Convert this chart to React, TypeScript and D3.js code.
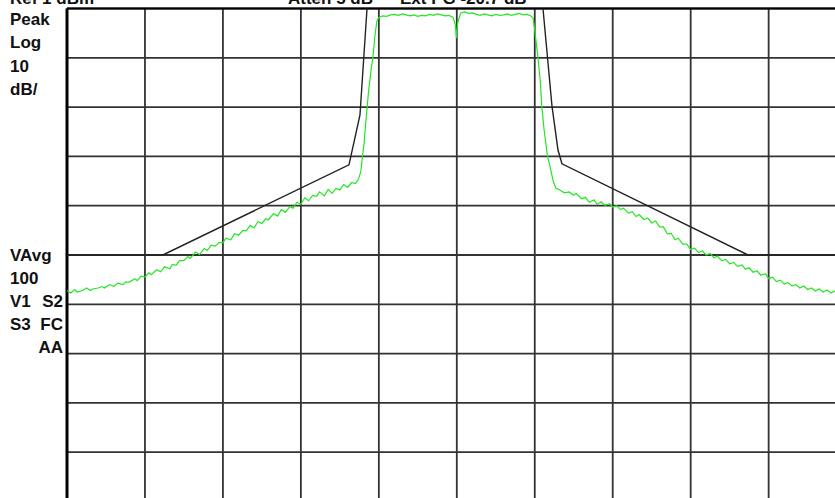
import React from "react";
import * as d3 from "d3";

// screen: 10 divisions across, 10 dB/div down from the reference level
const refLevel = 1;
const dbPerDiv = 10;

const headerLabels = [
  { text: "Ref 1 dBm", x: 10 },
  { text: "Atten 5 dB", x: 288 },
  { text: "Ext PG -20.7 dB", x: 400 },
];

const upperLabels = ["Peak", "Log", "10", "dB/"];
const lowerLabels = [
  { left: "VAvg", right: "" },
  { left: "100", right: "" },
  { left: "V1", right: "S2" },
  { left: "S3", right: "FC" },
  { left: "", right: "AA" },
];

// limit mask (division, dBm)
const maskPoints: [number, number][] = [
  [0, -49], [1.23, -49], [3.617, -30.7], [3.758, -20.6], [3.848, 0.9], [3.886, 10],
  [6.053, 10], [6.106, 0.9], [6.221, -18.8], [6.298, -27.7], [6.349, -30.5],
  [8.735, -49], [10, -49],
];

// measured trace (division, dBm)
const tracePoints: [number, number][] = [
  [0.0, -56.2], [0.05, -56.7], [0.1, -56.0], [0.13, -56.5], [0.2, -56.2], [0.25, -55.7],
  [0.3, -56.2], [0.33, -55.9], [0.4, -55.7], [0.45, -55.4], [0.48, -55.7], [0.55, -55.0],
  [0.6, -55.4], [0.65, -54.7], [0.72, -55.0], [0.75, -54.5], [0.8, -54.5], [0.87, -53.8],
  [0.9, -54.2], [0.95, -53.3], [1.0, -53.5], [1.05, -52.6], [1.08, -53.0], [1.15, -52.0],
  [1.2, -52.4], [1.25, -51.4], [1.32, -51.8], [1.35, -50.9], [1.4, -51.1], [1.44, -50.2],
  [1.5, -50.1], [1.55, -49.3], [1.58, -49.7], [1.65, -48.4], [1.7, -48.9], [1.76, -47.7],
  [1.8, -48.1], [1.85, -47.0], [1.9, -47.2], [1.95, -46.5], [2.0, -46.5], [2.04, -45.6],
  [2.1, -45.9], [2.15, -44.7], [2.2, -45.0], [2.26, -44.0], [2.3, -44.1], [2.35, -43.0],
  [2.4, -43.5], [2.45, -42.2], [2.5, -42.6], [2.55, -41.6], [2.58, -41.9], [2.65, -40.6],
  [2.7, -41.1], [2.75, -39.8], [2.8, -40.3], [2.86, -39.2], [2.9, -39.5], [2.95, -38.3],
  [3.0, -38.7], [3.05, -37.4], [3.1, -38.0], [3.15, -36.9], [3.2, -37.1], [3.24, -36.2],
  [3.3, -37.0], [3.35, -35.7], [3.4, -36.5], [3.45, -35.5], [3.5, -35.8], [3.55, -34.7],
  [3.6, -35.3], [3.65, -34.3], [3.7, -34.5], [3.74, -33.6], [3.77, -32.0], [3.79, -29.0],
  [3.81, -26.5], [3.83, -22.5], [3.85, -19.0], [3.87, -15.5], [3.9, -11.5], [3.925, -8.8],
  [3.95, -4.5], [3.975, -1.5], [4.0, -0.8],
  [4.05, -0.5], [4.1, -0.6], [4.15, -0.3], [4.2, -0.2], [4.25, -0.4], [4.3, -0.1],
  [4.35, -0.3], [4.4, -0.5], [4.45, -0.3], [4.5, -0.6], [4.55, -0.4], [4.6, -0.5],
  [4.65, -0.2], [4.7, -0.4], [4.75, -0.1], [4.8, -0.3], [4.85, -0.5], [4.9, -0.4],
  [4.95, -0.8], [4.98, -2.2], [4.995, -5.0], [5.01, -2.0], [5.05, 0.1], [5.1, 0.3],
  [5.15, 0.0], [5.2, 0.1], [5.25, -0.2], [5.3, -0.4], [5.35, -0.1], [5.4, -0.3],
  [5.45, -0.5], [5.5, -0.2], [5.55, -0.4], [5.6, -0.3], [5.65, -0.1], [5.7, -0.4],
  [5.75, -0.2], [5.8, 0.0], [5.85, -0.3], [5.9, -0.2], [5.95, -0.5], [5.98, -1.0],
  [6.0, -3.4], [6.04, -8.8], [6.07, -13.5], [6.09, -18.8], [6.12, -23.6], [6.16, -28.7],
  [6.2, -31.4], [6.24, -34.2], [6.27, -35.4], [6.32, -35.8], [6.38, -36.4], [6.44, -36.2],
  [6.5, -36.9], [6.53, -36.5], [6.6, -37.6], [6.65, -37.3], [6.7, -38.3], [6.76, -37.8],
  [6.8, -38.7], [6.85, -38.2], [6.9, -38.9], [6.96, -38.6], [7.0, -39.3], [7.05, -39.0],
  [7.1, -39.8], [7.14, -39.5], [7.2, -40.5], [7.25, -40.2], [7.3, -41.2], [7.34, -40.8],
  [7.4, -41.8], [7.45, -41.5], [7.5, -42.5], [7.55, -42.1], [7.6, -43.3], [7.65, -43.3],
  [7.7, -44.7], [7.75, -44.6], [7.8, -45.9], [7.84, -45.6], [7.9, -46.8], [7.95, -46.8],
  [8.0, -47.9], [8.05, -47.6], [8.1, -48.5], [8.15, -48.2], [8.2, -49.0], [8.25, -48.7],
  [8.3, -49.6], [8.34, -49.2], [8.4, -50.2], [8.45, -49.9], [8.5, -50.8], [8.55, -50.5],
  [8.6, -51.3], [8.66, -51.0], [8.7, -51.9], [8.75, -51.6], [8.8, -52.5], [8.85, -52.2],
  [8.9, -53.1], [8.96, -52.8], [9.0, -53.8], [9.05, -53.5], [9.1, -54.4], [9.15, -54.1],
  [9.2, -54.9], [9.25, -54.6], [9.3, -55.3], [9.35, -55.0], [9.4, -55.7], [9.45, -55.3],
  [9.5, -56.0], [9.55, -55.7], [9.6, -56.3], [9.65, -55.9], [9.7, -56.5], [9.75, -56.1],
  [9.8, -56.7], [9.85, -56.3], [9.9, -56.8], [9.95, -56.4], [10.0, -56.8],
];

const W = 835;
const H = 498;
const left = 67;
const top = 8.5;
const divW = 77.96;
const divH = 49.3;

export default function App() {
  const x = d3.scaleLinear().domain([0, 10]).range([left, left + 10 * divW]);
  const y = d3
    .scaleLinear()
    .domain([refLevel, refLevel - 10 * dbPerDiv])
    .range([top, top + 10 * divH]);

  const line = d3
    .line<[number, number]>()
    .x((d) => x(d[0]))
    .y((d) => y(d[1]));

  const xTicks = d3.range(0, 11);
  const yTicks = d3.range(0, 11).map((i) => refLevel - i * dbPerDiv);
  const font = { fontFamily: "'Liberation Sans', Arial, sans-serif", fontWeight: 700, fontSize: 17 };

  return (
    <svg width={W} height={H} style={{ position: "absolute", left: 0, top: 0, background: "#fff" }}>
      <defs>
        <clipPath id="screen">
          <rect x={left} y={top} width={10 * divW} height={10 * divH} />
        </clipPath>
      </defs>
      <rect width={W} height={H} fill="#fff" />

      {/* graticule */}
      <g stroke="#333" strokeWidth={1.8}>
        {xTicks.map((t) => (
          <line key={"v" + t} x1={x(t)} x2={x(t)} y1={top} y2={top + 10 * divH} />
        ))}
        {yTicks.map((t) => (
          <line key={"h" + t} x1={left} x2={left + 10 * divW} y1={y(t)} y2={y(t)} />
        ))}
      </g>
      <line x1={left} x2={left + 10 * divW} y1={top} y2={top} stroke="#000" strokeWidth={2} />
      <line x1={left} x2={left} y1={top} y2={H} stroke="#000" strokeWidth={3} />

      <g clipPath="url(#screen)" fill="none">
        <path d={line(maskPoints) || ""} stroke="#222" strokeWidth={1.4} />
        <path d={line(tracePoints) || ""} stroke="#22e622" strokeWidth={1.2} />
      </g>

      <g style={font} fill="#111">
        {headerLabels.map((h) => (
          <text key={h.text} x={h.x} y={3.5}>
            {h.text}
          </text>
        ))}
        {upperLabels.map((t, i) => (
          <text key={t} x={10} y={25 + i * 23.3}>
            {t}
          </text>
        ))}
        {lowerLabels.map((l, i) => (
          <g key={i}>
            {l.left && (
              <text x={10} y={261 + i * 23}>
                {l.left}
              </text>
            )}
            {l.right && (
              <text x={63} y={261 + i * 23} textAnchor="end">
                {l.right}
              </text>
            )}
          </g>
        ))}
      </g>
    </svg>
  );
}
